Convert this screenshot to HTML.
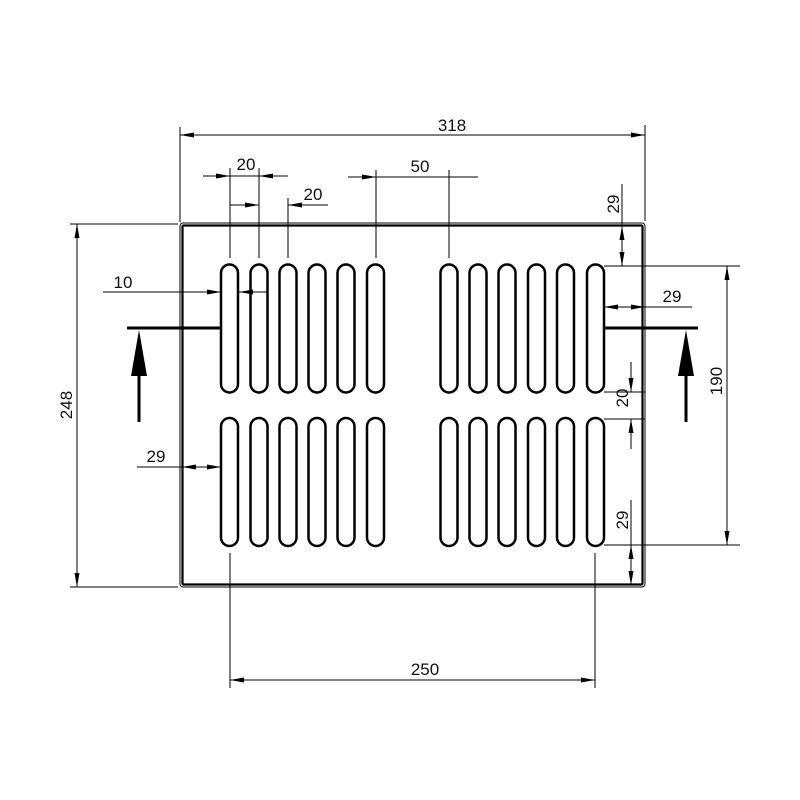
<!DOCTYPE html>
<html><head><meta charset="utf-8"><style>html,body{margin:0;padding:0;background:#fff}svg{display:block}text{font-family:"Liberation Sans",sans-serif;font-size:17px;fill:#111}</style></head>
<body>
<svg width="800" height="800" viewBox="0 0 800 800" xmlns="http://www.w3.org/2000/svg">
<defs>
<marker id="a" viewBox="0 0 14 6" refX="14" refY="3" markerWidth="14" markerHeight="6" markerUnits="userSpaceOnUse" orient="auto"><path d="M0,0.5 L14,3 L0,5.5 Z" fill="#000"/></marker>
<marker id="b" viewBox="0 0 14 6" refX="0" refY="3" markerWidth="14" markerHeight="6" markerUnits="userSpaceOnUse" orient="auto"><path d="M14,0.5 L0,3 L14,5.5 Z" fill="#000"/></marker>
</defs>
<rect x="180" y="223" width="465" height="364" rx="3" fill="none" stroke="#000" stroke-width="1"/>
<rect x="182.5" y="225.5" width="460" height="359" rx="1" fill="none" stroke="#000" stroke-width="2.2"/>
<g fill="none" stroke="#000" stroke-width="2.5">
<g id="row">
<rect x="221" y="264.5" width="17" height="128" rx="8.5"/>
<rect x="250.5" y="264.5" width="17" height="128" rx="8.5"/>
<rect x="279.5" y="264.5" width="17" height="128" rx="8.5"/>
<rect x="308.5" y="264.5" width="17" height="128" rx="8.5"/>
<rect x="337.5" y="264.5" width="17" height="128" rx="8.5"/>
<rect x="367" y="264.5" width="17" height="128" rx="8.5"/>
<rect x="440.5" y="264.5" width="17" height="128" rx="8.5"/>
<rect x="469.5" y="264.5" width="17" height="128" rx="8.5"/>
<rect x="498.5" y="264.5" width="17" height="128" rx="8.5"/>
<rect x="528" y="264.5" width="17" height="128" rx="8.5"/>
<rect x="557" y="264.5" width="17" height="128" rx="8.5"/>
<rect x="587" y="264.5" width="17" height="128" rx="8.5"/>
</g>
<use href="#row" y="153.5"/>
</g>
<g stroke="#000" stroke-width="1" fill="none">
<line x1="180" y1="127" x2="180" y2="222"/><line x1="645" y1="125" x2="645" y2="221"/>
<line x1="180" y1="135" x2="645" y2="135" marker-start="url(#b)" marker-end="url(#a)"/>
<line x1="230" y1="168" x2="230" y2="258"/><line x1="259" y1="168" x2="259" y2="258"/>
<line x1="203" y1="176" x2="230" y2="176" marker-end="url(#a)"/><line x1="230" y1="176" x2="288" y2="176"/>
<line x1="285" y1="176" x2="259" y2="176" marker-end="url(#a)"/>
<line x1="288" y1="198" x2="288" y2="258"/>
<line x1="230" y1="205" x2="259" y2="205" marker-end="url(#a)"/>
<line x1="328" y1="205" x2="288" y2="205" marker-end="url(#a)"/>
<line x1="376" y1="170" x2="376" y2="258"/><line x1="449" y1="170" x2="449" y2="258"/>
<line x1="348" y1="177" x2="376" y2="177" marker-end="url(#a)"/>
<line x1="376" y1="177" x2="478" y2="177"/>
<line x1="103" y1="292" x2="221" y2="292" marker-end="url(#a)"/>
<line x1="267" y1="292" x2="239" y2="292" marker-end="url(#a)"/>
<line x1="137" y1="467" x2="221" y2="467"/>
<line x1="182" y1="467" x2="196" y2="467" marker-start="url(#b)"/>
<line x1="207" y1="467" x2="221" y2="467" marker-end="url(#a)"/>
<line x1="70" y1="224" x2="178" y2="224"/><line x1="70" y1="587" x2="178" y2="587"/>
<line x1="77" y1="224" x2="77" y2="587" marker-start="url(#b)" marker-end="url(#a)"/>
<line x1="622" y1="184" x2="622" y2="226"/>
<line x1="622" y1="226" x2="622" y2="266" marker-start="url(#b)" marker-end="url(#a)"/>
<line x1="604" y1="266" x2="740" y2="266"/>
<line x1="604" y1="545" x2="740" y2="545"/>
<line x1="727" y1="266" x2="727" y2="545" marker-start="url(#b)" marker-end="url(#a)"/>
<line x1="604" y1="307" x2="692" y2="307"/>
<line x1="604" y1="307" x2="618" y2="307" marker-start="url(#b)"/>
<line x1="631" y1="307" x2="645" y2="307" marker-end="url(#a)"/>
<line x1="604" y1="392" x2="645" y2="392"/><line x1="604" y1="419" x2="645" y2="419"/>
<line x1="631" y1="362" x2="631" y2="392" marker-end="url(#a)"/>
<line x1="631" y1="449" x2="631" y2="419" marker-end="url(#a)"/>
<line x1="631" y1="500" x2="631" y2="545"/>
<line x1="631" y1="545" x2="631" y2="585" marker-start="url(#b)" marker-end="url(#a)"/>
<line x1="230" y1="553" x2="230" y2="688"/><line x1="595" y1="553" x2="595" y2="688"/>
<line x1="230" y1="680" x2="595" y2="680" marker-start="url(#b)" marker-end="url(#a)"/>
</g>
<g stroke="#000" stroke-width="3" fill="none">
<line x1="127" y1="328" x2="221" y2="328"/>
<line x1="139" y1="374" x2="139" y2="422"/>
<line x1="604" y1="328" x2="698" y2="328"/>
<line x1="686" y1="374" x2="686" y2="422"/>
</g>
<polygon points="139,330 131,376 147,376" fill="#000"/>
<polygon points="686,330 678,376 694,376" fill="#000"/>
<g text-anchor="middle">
<text x="452" y="131">318</text>
<text x="246" y="170">20</text>
<text x="313" y="200">20</text>
<text x="420" y="172">50</text>
<text x="123" y="288">10</text>
<text x="156" y="462">29</text>
<text x="672" y="302">29</text>
<text x="425" y="675">250</text>
<text transform="translate(72,405) rotate(-90)">248</text>
<text transform="translate(619,204) rotate(-90)">29</text>
<text transform="translate(722,381) rotate(-90)">190</text>
<text transform="translate(628,398) rotate(-90)">20</text>
<text transform="translate(628,520) rotate(-90)">29</text>
</g>
</svg>
</body></html>
